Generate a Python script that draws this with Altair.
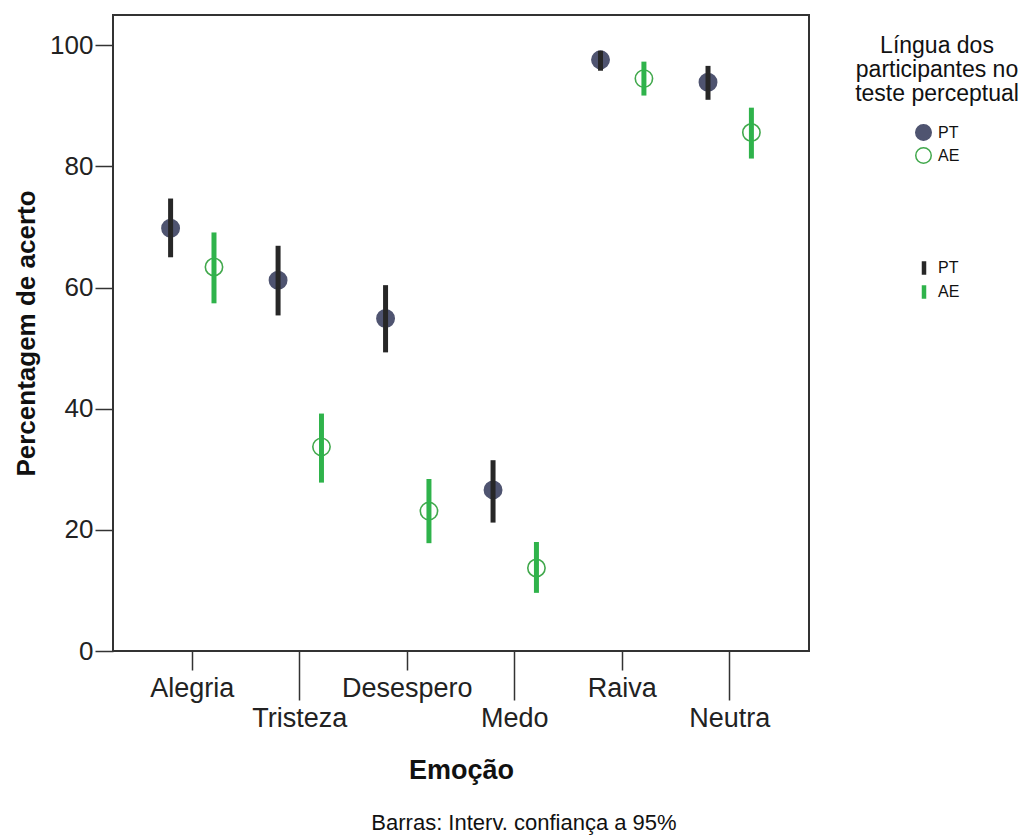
import altair as alt
import pandas as pd

categories = ["Alegria", "Tristeza", "Desespero", "Medo", "Raiva", "Neutra"]
groups = ["PT", "AE"]

pt_mean = [69.8, 61.2, 54.9, 26.6, 97.6, 93.9]
pt_low = [65.0, 55.4, 49.3, 21.2, 95.8, 91.0]
pt_high = [74.7, 66.9, 60.4, 31.5, 99.1, 96.6]

ae_mean = [63.4, 33.7, 23.1, 13.7, 94.5, 85.6]
ae_low = [57.4, 27.8, 17.8, 9.6, 91.7, 81.3]
ae_high = [69.1, 39.2, 28.4, 18.0, 97.3, 89.7]

rows = []
for i, c in enumerate(categories):
    rows.append({"cat": c, "grp": "PT", "mean": pt_mean[i], "lo": pt_low[i], "hi": pt_high[i]})
    rows.append({"cat": c, "grp": "AE", "mean": ae_mean[i], "lo": ae_low[i], "hi": ae_high[i]})
df = pd.DataFrame(rows)
df["grupo_ic"] = df["grp"]

FONT = "Liberation Sans"
second_row = "indexof(['Tristeza','Medo','Neutra'], datum.value) >= 0"

x_enc = alt.X(
    "cat:N",
    sort=categories,
    scale=alt.Scale(paddingInner=0, paddingOuter=0.2377),
    axis=alt.Axis(
        title="Emoção",
        labelAngle=0,
        domain=False,
        tickSize=alt.ExprRef(f"{second_row} ? 49 : 19"),
        tickColor="#333333",
        tickWidth=1.5,
        labelPadding=5,
        labelFont=FONT,
        labelFontSize=27,
        labelColor="#222222",
        titleFont=FONT,
        titleFontSize=27,
        titleFontWeight="bold",
        titleColor="#111111",
        titlePadding=26,
    ),
)
xoff_enc = alt.XOffset(
    "grp:N", sort=groups, scale=alt.Scale(paddingInner=0, paddingOuter=0.2385)
)
y_axis = alt.Axis(
    title="Percentagem de acerto",
    values=[0, 20, 40, 60, 80, 100],
    grid=False,
    domain=False,
    tickSize=18,
    tickColor="#333333",
    tickWidth=1.5,
    labelPadding=2,
    labelFont=FONT,
    labelFontSize=26,
    labelColor="#222222",
    titleFont=FONT,
    titleFontSize=26,
    titleFontWeight="bold",
    titleColor="#111111",
    titlePadding=10,
)
y_scale = alt.Scale(domain=[0, 105], nice=False, zero=False)

legend1 = alt.Legend(
    title=["Língua dos", "participantes no", "teste perceptual"],
    orient="none",
    legendX=742,
    legendY=20,
    titleFont=FONT,
    titleFontSize=23,
    titleFontWeight="normal",
    titleColor="#111111",
    titleAnchor="middle",
    titleAlign="center",
    titleLineHeight=24,
    titlePadding=18,
    labelFont=FONT,
    labelFontSize=16,
    labelColor="#111111",
    labelOffset=6,
    symbolSize=240,
    symbolStrokeWidth=1.5,
    clipHeight=17,
    rowPadding=6,
)

points = alt.Chart(df).mark_point(
    shape="circle", size=300, strokeWidth=1.6, opacity=1
).encode(
    x=x_enc,
    xOffset=xoff_enc,
    y=alt.Y("mean:Q", scale=y_scale, axis=y_axis),
    stroke=alt.Stroke(
        "grp:N", sort=groups,
        scale=alt.Scale(domain=groups, range=["#4f5470", "#41a84c"]),
        legend=legend1,
    ),
    fill=alt.Fill(
        "grp:N", sort=groups,
        scale=alt.Scale(domain=groups, range=["#4f5470", "#ffffff"]),
        legend=legend1,
    ),
)

bars = alt.Chart(df).mark_rule(strokeWidth=5).encode(
    x=x_enc,
    xOffset=xoff_enc,
    y=alt.Y("lo:Q", scale=y_scale),
    y2="hi:Q",
    color=alt.Color(
        "grupo_ic:N", sort=groups,
        scale=alt.Scale(range=["#272727", "#2fb34b"]),
        legend=alt.Legend(
            title=None,
            orient="none",
            legendX=802,
            legendY=245,
            symbolType="M0,-1L0,1",
            symbolSize=180,
            symbolStrokeWidth=4.5,
            labelFont=FONT,
            labelFontSize=16,
            labelColor="#111111",
            labelOffset=5,
            clipHeight=16,
            rowPadding=8,
        ),
    ),
)

chart = alt.layer(points, bars).properties(
    width=696,
    height=636,
    autosize=alt.AutoSizeParams(type="none"),
    padding={"left": 113, "top": 15, "right": 225, "bottom": 187},
    title=alt.TitleParams(
        text="Barras: Interv. confiança a 95%",
        orient="bottom",
        anchor="middle",
        dx=63,
        offset=30,
        font=FONT,
        fontSize=22,
        fontWeight="normal",
        color="#111111",
    ),
).configure_view(
    stroke="#333333", strokeWidth=2
)

chart.save("out.html", embed_options={"renderer": "svg", "actions": False})
